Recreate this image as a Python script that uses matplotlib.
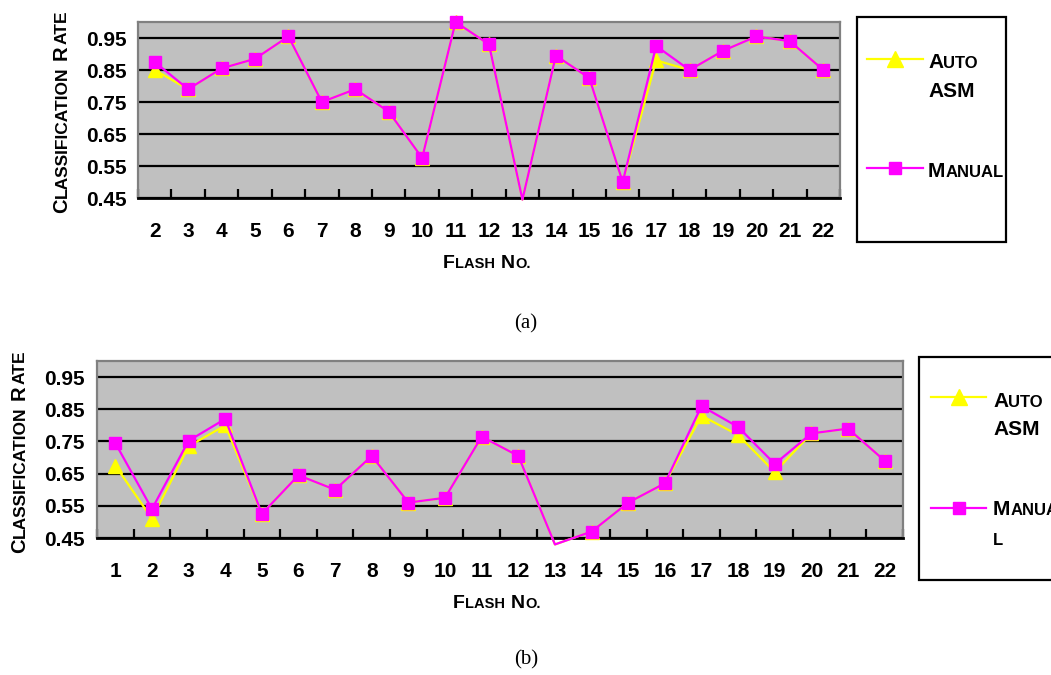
import numpy as np
import matplotlib
matplotlib.use("Agg")
import matplotlib.pyplot as plt
from matplotlib.patches import Rectangle

# ---------------- data ----------------
flash_a = list(range(2, 23))
auto_a = [0.85, 0.79, 0.855, 0.885, 0.955, 0.75, 0.79, 0.72, 0.575, 1.0, 0.93,
          0.445, 0.895, 0.825, 0.50, 0.88, 0.85, 0.91, 0.955, 0.94, 0.85]
manual_a = [0.875, 0.79, 0.855, 0.885, 0.955, 0.75, 0.79, 0.72, 0.575, 1.0, 0.93,
            0.445, 0.895, 0.825, 0.50, 0.925, 0.85, 0.91, 0.955, 0.94, 0.85]

flash_b = list(range(1, 23))
auto_b = [0.675, 0.51, 0.735, 0.80, 0.525, 0.645, 0.60, 0.705, 0.56, 0.575, 0.765,
          0.705, 0.43, 0.47, 0.56, 0.62, 0.83, 0.77, 0.655, 0.775, 0.79, 0.69]
manual_b = [0.745, 0.54, 0.752, 0.82, 0.525, 0.645, 0.60, 0.705, 0.56, 0.575, 0.765,
            0.705, 0.43, 0.47, 0.56, 0.62, 0.86, 0.795, 0.68, 0.775, 0.79, 0.69]

yticks = [0.45, 0.55, 0.65, 0.75, 0.85, 0.95]
ymin, ymax = 0.45, 1.0

AUTO_C = "#FFFF00"
MAN_C = "#FF00FF"
SANS = ["Liberation Sans", "DejaVu Sans"]
SERIF = ["Liberation Serif", "DejaVu Serif"]

W, H = 1051, 675
fig = plt.figure(figsize=(W / 100, H / 100), dpi=100)


def px_axes(l, t, r, b):
    return fig.add_axes([l / W, 1 - b / H, (r - l) / W, (b - t) / H])


def setup(ax, cats, auto, manual, ypad):
    n = len(cats)
    x = np.arange(n)
    ax.set_facecolor("#C0C0C0")
    ax.set_xlim(-0.5, n - 0.5)
    ax.set_ylim(ymin, ymax)
    ax.set_yticks(yticks)
    ax.set_yticklabels([f"{v:.2f}" for v in yticks])
    ax.grid(axis="y", color="black", lw=1.6)
    ax.set_axisbelow(True)
    ax.set_xticks(x)
    ax.set_xticklabels([str(c) for c in cats])
    ax.set_xticks(np.arange(-0.5, n), minor=True)
    ax.tick_params(axis="x", which="major", length=0, pad=17)
    ax.tick_params(axis="x", which="minor", direction="in", length=6.5,
                   width=1.6, color="black")
    ax.tick_params(axis="y", length=0, pad=ypad)
    for lab in ax.get_xticklabels() + ax.get_yticklabels():
        lab.set_fontfamily(SANS)
        lab.set_fontweight("bold")
        lab.set_fontsize(15)
    for s in ["left", "top", "right"]:
        ax.spines[s].set_color("#808080")
        ax.spines[s].set_linewidth(1.6)
    ax.spines["bottom"].set_color("black")
    ax.spines["bottom"].set_linewidth(2.0)

    for vals, col, mk, ms, z in [(auto, AUTO_C, "^", 10, 3), (manual, MAN_C, "s", 8.5, 4)]:
        vis = [i for i, v in enumerate(vals) if v >= ymin]
        ax.plot(x, vals, color=col, lw=1.6, clip_on=False, zorder=z)
        ax.plot(x, vals, ls="none", marker=mk, ms=ms, color=col, markevery=vis,
                clip_on=False, zorder=z)


ax1 = px_axes(138, 22, 840, 198)
setup(ax1, flash_a, auto_a, manual_a, 8)
ax2 = px_axes(97, 361, 903, 538)
setup(ax2, flash_b, auto_b, manual_b, 9)

# overlay in pixel coordinates for text/legends
ov = fig.add_axes([0, 0, 1, 1], zorder=10)
ov.set_xlim(0, W)
ov.set_ylim(H, 0)
ov.axis("off")


def smallcaps(x, y, parts, rot=0):
    prev = None
    for s, size, gap in parts:
        kw = dict(fontsize=size, rotation=rot, rotation_mode="anchor", ha="left",
                  va="baseline", family=SANS, fontweight="bold", color="black")
        if prev is None:
            prev = ov.text(x, y, s, **kw)
        else:
            if rot == 0:
                xyc = (prev, ov.transData)
                xy = (1, y)
                off = (gap, 0)
            else:
                xyc = (ov.transData, prev)
                xy = (x, 1)
                off = (0, gap)
            prev = ov.annotate(s, xy=xy, xycoords=xyc, xytext=off,
                               textcoords="offset points", annotation_clip=False, **kw)
    return prev


BIG, SMALL = 14.5, 12.5
ylabel_parts = [("C", BIG, 0), ("LASSIFICATION", SMALL, 0.4), ("R", BIG, 5), ("ATE", SMALL, 0.4)]
xlabel_parts = [("F", 14, 0), ("LASH", 10.5, 0.3), ("N", 14, 4), ("O.", 10.5, 0.3)]

smallcaps(67, 213, ylabel_parts, rot=90)
smallcaps(25, 553, ylabel_parts, rot=90)
smallcaps(443, 268, xlabel_parts)
smallcaps(453, 608, xlabel_parts)

fig.text(526 / W, 1 - 324 / H, "(a)", ha="center", va="center", fontsize=15, family=SERIF)
fig.text(526 / W, 1 - 660 / H, "(b)", ha="center", va="center", fontsize=15, family=SERIF)

# legends
LB, LS = 15, 12


def legend_box(l, t, w, h, x0, x1, ya, ym, tx, auto_rows, man_rows):
    ov.add_patch(Rectangle((l, t), w, h, facecolor="white", edgecolor="black", lw=1.6,
                           clip_on=True))
    xm = (x0 + x1) / 2
    ov.plot([x0, x1], [ya, ya], color=AUTO_C, lw=1.6)
    ov.plot([xm], [ya], marker="^", ms=11, color=AUTO_C, ls="none")
    ov.plot([x0, x1], [ym, ym], color=MAN_C, lw=1.6)
    ov.plot([xm], [ym], marker="s", ms=9, color=MAN_C, ls="none")
    for base, parts in auto_rows:
        smallcaps(tx, base, parts)
    for base, parts in man_rows:
        smallcaps(tx, base, parts)


legend_box(857, 17, 149, 225, 867, 923, 59, 168, 928,
           [(68, [("A", LB, 0), ("UTO", LS, 0.2)]), (97, [("ASM", LB, 0)])],
           [(177, [("M", LB, 0), ("ANUAL", LS, 0.2)])])
legend_box(919, 357, 200, 223, 931, 986, 397, 508, 993,
           [(407, [("A", LB, 0), ("UTO", LS, 0.2)]), (435, [("ASM", LB, 0)])],
           [(515, [("M", LB, 0), ("ANUA", LS, 0.2)]), (545, [("L", LS, 0)])])

fig.savefig("out.png", dpi=100)
